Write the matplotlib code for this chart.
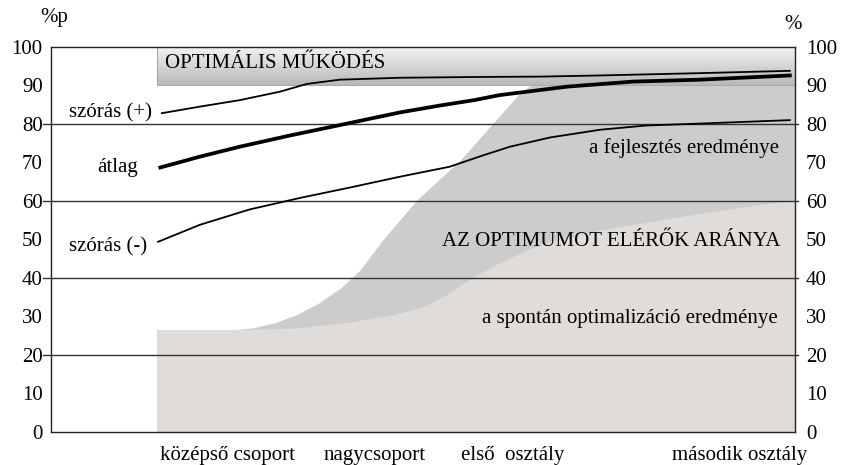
import matplotlib
matplotlib.use("Agg")
import matplotlib.pyplot as plt
from matplotlib import font_manager
import numpy as np
from matplotlib.colors import LinearSegmentedColormap

names = sorted({f.name for f in font_manager.fontManager.ttflist})
print(names)
plt.rcParams["font.family"] = "serif"
plt.rcParams["font.serif"] = ["Liberation Serif", "Times New Roman", "DejaVu Serif"]

# time axis: 0..100 across the plot area
plus_x = [14.9, 20.0, 25.4, 30.8, 34.4, 38.8, 46.9, 57.0, 65.7, 73.8, 87.2, 99.3]
plus_y = [82.8, 84.5, 86.2, 88.4, 90.4, 91.5, 92.0, 92.2, 92.3, 92.6, 93.2, 93.8]

mean_x = [14.7, 20.0, 25.4, 32.1, 38.8, 46.9, 52.3, 56.9, 60.3, 69.4, 78.2, 87.2, 99.3]
mean_y = [68.7, 71.5, 74.1, 77.0, 79.7, 83.0, 84.8, 86.2, 87.5, 89.7, 91.0, 91.5, 92.6]

minus_x = [14.4, 20.0, 26.7, 33.5, 40.2, 46.9, 53.6, 58.0, 61.7, 67.1, 73.8, 80.0, 87.2, 99.3]
minus_y = [49.4, 53.8, 57.8, 60.8, 63.5, 66.3, 68.9, 71.8, 74.1, 76.5, 78.5, 79.6, 80.1, 81.0]

# share reaching the optimum (upper edge of darker area)
reach_x = [14.2, 24.1, 27.0, 30.0, 33.0, 36.0, 39.0, 41.5, 44.6, 49.2, 55.0, 59.0, 63.0, 64.4, 100.0]
reach_y = [26.5, 26.5, 27.0, 28.3, 30.5, 33.5, 37.5, 42.0, 49.9, 60.3, 70.6, 79.3, 88.0, 90.0, 90.0]

# spontaneous optimisation (upper edge of light area)
spont_x = [14.2, 24.1, 33.0, 40.0, 46.0, 50.0, 53.0, 56.5, 60.3, 64.0, 67.1, 73.8, 87.2, 100.0]
spont_y = [26.5, 26.5, 27.0, 28.5, 30.5, 32.5, 35.5, 40.0, 44.0, 47.3, 49.5, 52.5, 56.8, 60.3]

categories = ["középső csoport", "nagycsoport", "első  osztály", "második osztály"]
cat_pos = [23.7, 43.5, 62.0, 92.5]

FS = 15

fig = plt.figure(figsize=(8.41, 4.65), dpi=100)
ax = fig.add_axes([0.0606, 0.071, 0.8847, 0.828])
ax.set_xlim(0, 100)
ax.set_ylim(0, 100)

ax.fill_between(reach_x, 0, reach_y, color="#cccccc", lw=0, zorder=1)
ax.fill_between(spont_x, 0, spont_y, color="#dfdcd9", lw=0, zorder=1.2)

# optimal operation band with gradient
cmap = LinearSegmentedColormap.from_list("band", ["#b9b9b9", "#f4f4f4"])
grad = np.linspace(0, 1, 64).reshape(-1, 1)
ax.imshow(grad, extent=(14.2, 100, 90, 100), origin="lower", cmap=cmap,
          aspect="auto", zorder=1.5)
ax.add_patch(plt.Rectangle((14.2, 90), 85.8, 10, fill=False, ec="#999999",
                           lw=0.6, zorder=1.6))
ax.text(15.3, 95.8, "OPTIMÁLIS MŰKÖDÉS", fontsize=FS, va="center", zorder=4)

for g in [20, 40, 60, 80]:
    ax.plot([-1.1, 100.4], [g, g], color="#333333", lw=1, clip_on=False, zorder=2)

ax.plot(plus_x, plus_y, color="black", lw=1.3, zorder=3)
ax.plot(mean_x, mean_y, color="black", lw=2.7, zorder=3)
ax.plot(minus_x, minus_y, color="black", lw=1.3, zorder=3)

ax.text(13.6, 82.9, "szórás (+)", fontsize=FS, ha="right", va="center")
ax.text(8.9, 68.6, "átlag", fontsize=FS, ha="center", va="center")
ax.text(12.9, 48.1, "szórás (-)", fontsize=FS, ha="right", va="center")
ax.text(97.8, 73.8, "a fejlesztés eredménye", fontsize=FS, ha="right", va="center", zorder=4)
ax.text(98.0, 49.4, "AZ OPTIMUMOT ELÉRŐK ARÁNYA", fontsize=FS, ha="right", va="center", zorder=4)
ax.text(97.7, 29.6, "a spontán optimalizáció eredménye", fontsize=FS, ha="right",
        va="center", zorder=4)

for s in ax.spines.values():
    s.set_color("#222222")
    s.set_linewidth(1)

ax.set_yticks(range(0, 101, 10))
ax.tick_params(axis="y", length=0, labelsize=FS, pad=6)
ax.set_xticks(cat_pos)
ax.set_xticklabels(categories)
ax.tick_params(axis="x", length=0, labelsize=FS, pad=10)

ax2 = ax.twinx()
ax2.set_ylim(0, 100)
ax2.set_yticks(range(0, 101, 10))
ax2.tick_params(axis="y", length=0, labelsize=FS, pad=8)
for s in ax2.spines.values():
    s.set_visible(False)

fig.text(0.0476, 0.962, "%p", fontsize=FS, ha="left", va="center")
fig.text(0.943, 0.947, "%", fontsize=FS, ha="center", va="center")

fig.savefig("out.png", dpi=100)
